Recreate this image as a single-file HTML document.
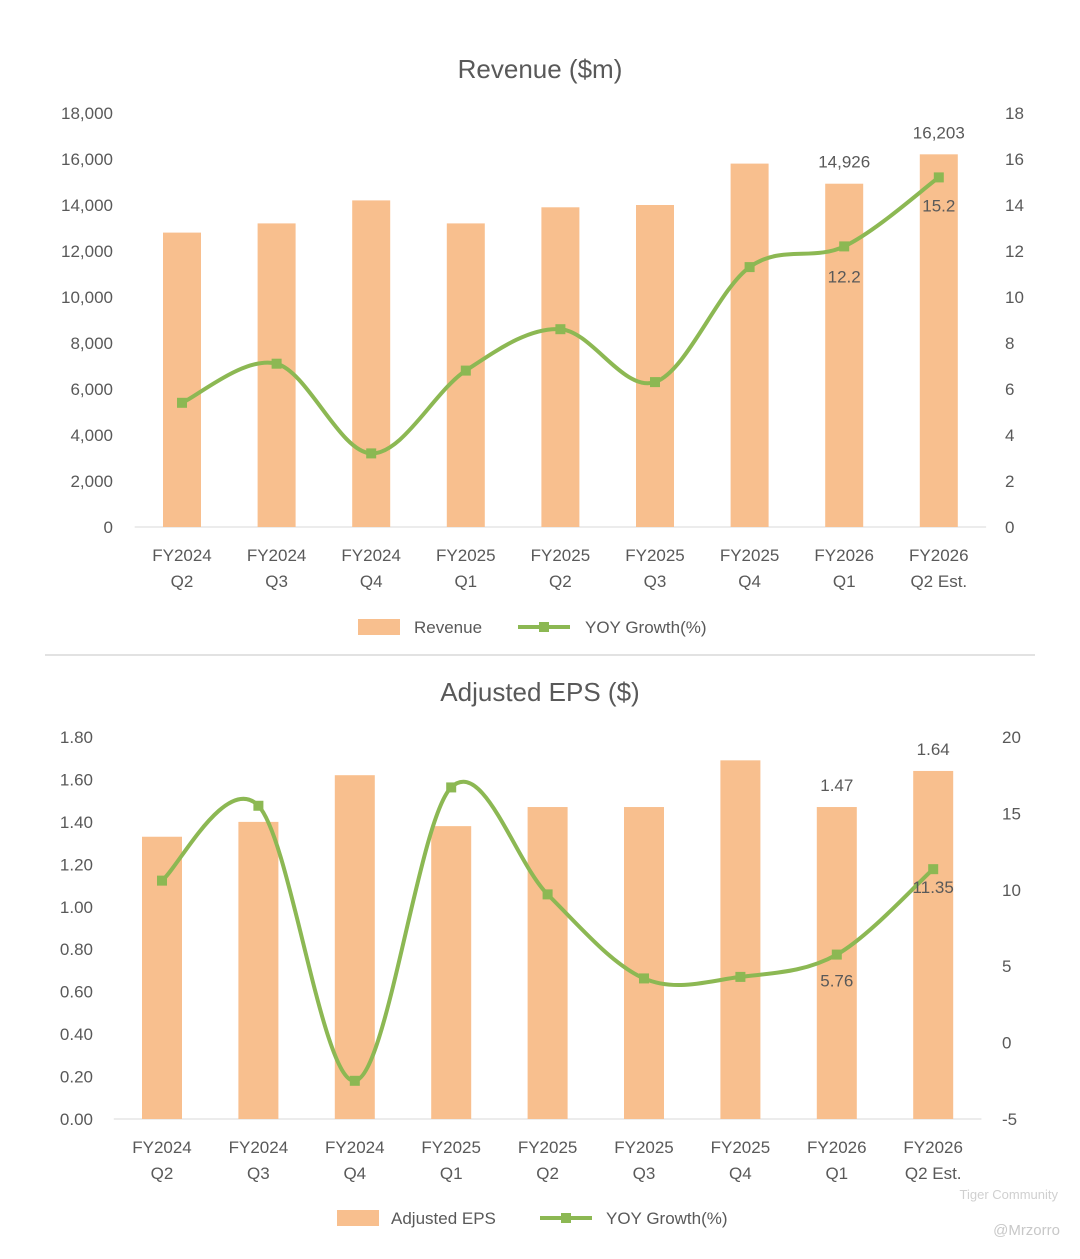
<!DOCTYPE html>
<html><head><meta charset="utf-8"><style>
body{margin:0;background:#fff;width:1080px;height:1254px;overflow:hidden;font-family:"Liberation Sans",sans-serif}
svg text{font-family:"Liberation Sans",sans-serif;fill:#595959}
</style></head><body>
<svg id="c" width="1080" height="1254"></svg>
<script>
const cats1=["FY2024","FY2024","FY2024","FY2025","FY2025","FY2025","FY2025","FY2026","FY2026"];
const cats2=["Q2","Q3","Q4","Q1","Q2","Q3","Q4","Q1","Q2 Est."];
const revenue=[12800,13200,14200,13200,13900,14000,15800,14926,16203];
const revYoy=[5.4,7.1,3.2,6.8,8.6,6.3,11.3,12.2,15.2];
const eps=[1.33,1.40,1.62,1.38,1.47,1.47,1.69,1.47,1.64];
const epsYoy=[10.6,15.5,-2.5,16.7,9.7,4.2,4.3,5.76,11.35];
const revTicks=[0,2000,4000,6000,8000,10000,12000,14000,16000,18000];
const revRTicks=[0,2,4,6,8,10,12,14,16,18];
const epsTicks=[0,0.2,0.4,0.6,0.8,1.0,1.2,1.4,1.6,1.8];
const epsRTicks=[-5,0,5,10,15,20];
const svg=document.getElementById('c');const NS='http://www.w3.org/2000/svg';
function mk(t,a,txt){const e=document.createElementNS(NS,t);for(const k in a)e.setAttribute(k,a[k]);if(txt!==undefined)e.textContent=txt;svg.appendChild(e);return e;}
function spline(p){let d=`M${p[0][0]},${p[0][1]}`;for(let i=0;i<p.length-1;i++){const p0=p[i-1]||p[i],p1=p[i],p2=p[i+1],p3=p[i+2]||p2;
d+=` C${p1[0]+(p2[0]-p0[0])/6},${p1[1]+(p2[1]-p0[1])/6} ${p2[0]-(p3[0]-p1[0])/6},${p2[1]-(p3[1]-p1[1])/6} ${p2[0]},${p2[1]}`;}return d;}
function chart(o){
 const yL=v=>o.y0-(v-o.lmin)/(o.lmax-o.lmin)*(o.y0-o.y1);
 const yR=v=>o.y0-(v-o.rmin)/(o.rmax-o.rmin)*(o.y0-o.y1);
 const xs=i=>o.x0+i*o.step;
 let t=mk('text',{x:540,y:o.titleY,'font-size':26,'text-anchor':'middle'},o.title);
 
 o.lt.forEach(v=>{let e=mk('text',{x:o.lx,y:yL(v)+6,'font-size':17,'text-anchor':'end'},o.lf(v));});
 o.rt.forEach(v=>{let e=mk('text',{x:o.rx,y:yR(v)+6,'font-size':17},String(v));});
 let ax=mk('line',{x1:o.x0-o.step/2,x2:o.x0+8.5*o.step,y1:o.y0,y2:o.y0,stroke:'#d9d9d9'});
 o.bars.forEach((v,i)=>{let r=mk('rect',{x:xs(i)-o.bw/2,y:yL(v),width:o.bw,height:o.y0-yL(v),fill:'#F8BF8E'});
  let a=mk('text',{x:xs(i),y:o.y0+34,'font-size':17,'text-anchor':'middle'},cats1[i]);
  let b=mk('text',{x:xs(i),y:o.y0+60,'font-size':17,'text-anchor':'middle'},cats2[i]);});
 const pts=o.line.map((v,i)=>[xs(i),yR(v)]);
 let p=mk('path',{d:spline(pts),fill:'none',stroke:'#8CB853','stroke-width':4});
 pts.forEach(q=>{let m=mk('rect',{x:q[0]-5,y:q[1]-5,width:10,height:10,fill:'#8CB853'});});
 [7,8].forEach(i=>{let a=mk('text',{x:xs(i),y:yL(o.bars[i])-16,'font-size':17,'text-anchor':'middle'},o.bf(o.bars[i]));
  let b=mk('text',{x:xs(i),y:yR(o.line[i])+o.ld[i-7],'font-size':17,'text-anchor':'middle'},String(o.line[i]));});
 let lr=mk('rect',{x:o.lg[0],y:o.ly-8,width:42,height:16,fill:'#F8BF8E'});
 let lt=mk('text',{x:o.lg[1],y:o.ly+6,'font-size':17},o.barName);
 let ll=mk('line',{x1:o.lg[2],x2:o.lg[2]+52,y1:o.ly,y2:o.ly,stroke:'#8CB853','stroke-width':4});
 let lm=mk('rect',{x:o.lg[2]+21,y:o.ly-5,width:10,height:10,fill:'#8CB853'});
 let l2=mk('text',{x:o.lg[3],y:o.ly+6,'font-size':17},'YOY Growth(%)');
}
chart({pre:'revenue',title:'Revenue ($m)',titleY:78,y0:527,y1:113,lmin:0,lmax:18000,rmin:0,rmax:18,x0:182,step:94.6,bw:38,lx:113,rx:1005,
 lt:revTicks,rt:revRTicks,lf:v=>v.toLocaleString('en-US'),bars:revenue,line:revYoy,bf:v=>v.toLocaleString('en-US'),ld:[36,34],lg:[358,414,518,585],ly:627,barName:'Revenue'});
let dv=mk('line',{x1:45,x2:1035,y1:655,y2:655,stroke:'#d9d9d9','stroke-width':1.5});
chart({pre:'eps',title:'Adjusted EPS ($)',titleY:701,y0:1119,y1:737,lmin:0,lmax:1.8,rmin:-5,rmax:20,x0:162,step:96.4,bw:40,lx:93,rx:1002,
 lt:epsTicks,rt:epsRTicks,lf:v=>v.toFixed(2),bars:eps,line:epsYoy,bf:v=>v.toFixed(2),ld:[32,24],lg:[337,391,540,606],ly:1218,barName:'Adjusted EPS'});
let w1=mk('text',{x:1058,y:1199,'font-size':13,'text-anchor':'end',style:'fill:#d0d0d0'},'Tiger Community');
let w2=mk('text',{x:1060,y:1235,'font-size':15,'text-anchor':'end',style:'fill:#c8c8c8'},'@Mrzorro');
</script></body></html>
